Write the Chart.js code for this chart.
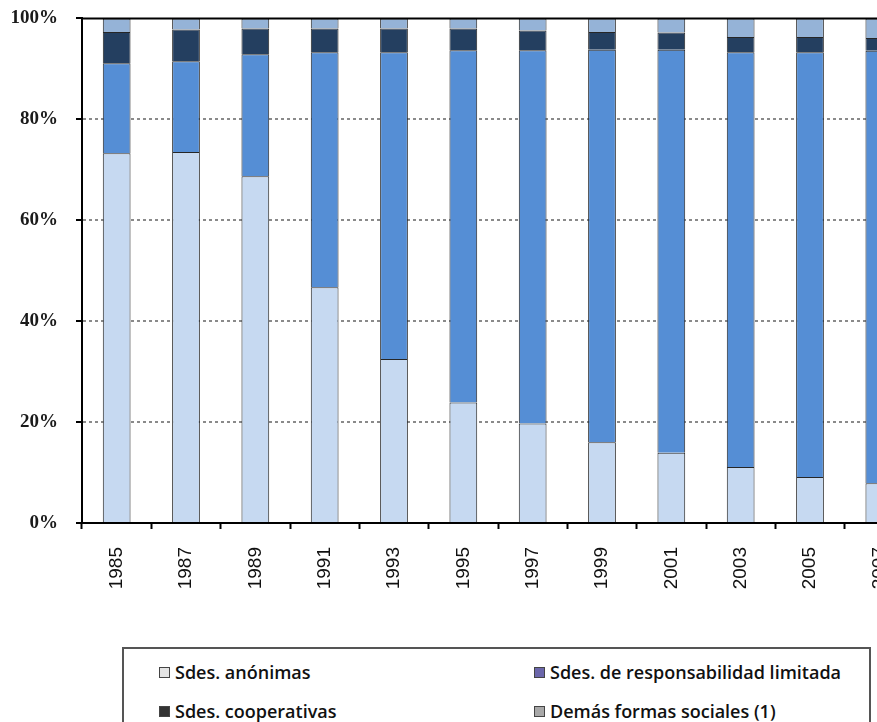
<!DOCTYPE html>
<html>
<head>
<meta charset="utf-8">
<script src="https://cdn.jsdelivr.net/npm/chart.js@4/dist/chart.umd.min.js"></script>
<style>
  html, body { margin: 0; padding: 0; width: 877px; height: 722px; overflow: hidden; background: #fff; }
  #wrap { position: absolute; left: 0; top: -11px; }
  #legend {
    position: absolute; left: 122px; top: 647px; width: 749px; height: 110px;
    border: 2px solid #555; box-sizing: border-box; background: #fff;
    font-family: "Open Sans", "Liberation Sans", sans-serif; font-weight: 600; font-size: 18px; color: #111;
  }
  .item { position: absolute; display: flex; align-items: center; white-space: nowrap; }
  .sw { width: 9px; height: 9px; border: 1px solid #444; margin-right: 5px; }
</style>
</head>
<body>
<div id="wrap"><canvas id="c" width="940" height="651"></canvas></div>
<div id="legend"></div>
<script>
// Distribución de las sociedades por forma jurídica (porcentaje sobre el total)
const years = ['1985', '1987', '1989', '1991', '1993', '1995', '1997', '1999', '2001', '2003', '2005', '2007'];
const anonimas =      [73.3, 73.5, 68.7, 46.7, 32.5, 23.9, 19.7, 16.0, 13.9, 11.1,  9.1,  7.9];
const limitadas =     [17.8, 18.0, 24.2, 46.6, 60.8, 69.8, 74.0, 77.8, 79.9, 82.2, 84.2, 85.7];
const cooperativas =  [ 6.2,  6.3,  5.1,  4.7,  4.7,  4.3,  3.9,  3.5,  3.4,  3.0,  3.0,  2.5];
const demas =         [ 2.7,  2.2,  2.0,  2.0,  2.0,  2.0,  2.4,  2.7,  2.8,  3.7,  3.7,  3.9];
const yTicks = [0, 20, 40, 60, 80, 100];

const seriesNames = ['Sdes. anónimas', 'Sdes. de responsabilidad limitada', 'Sdes. cooperativas', 'Demás formas sociales (1)'];
const barColors = ['#c6d9f1', '#558ed5', '#243f60', '#95b3d7'];
const legendColors = ['#e4e4e4', '#6b66aa', '#333333', '#a8a8a8'];

const seriesData = [anonimas, limitadas, cooperativas, demas];

// Marco superior del área de trazado
const frame = {
  id: 'frame',
  afterDraw(chart) {
    const { ctx, chartArea } = chart;
    ctx.save();
    ctx.strokeStyle = '#000';
    ctx.lineWidth = 2;
    ctx.beginPath();
    ctx.moveTo(chartArea.left, chartArea.top);
    ctx.lineTo(chartArea.right, chartArea.top);
    ctx.stroke();
    ctx.restore();
  }
};

new Chart(document.getElementById('c'), {
  type: 'bar',
  data: {
    labels: years,
    datasets: seriesData.map((d, i) => ({
      label: seriesNames[i],
      data: d,
      backgroundColor: barColors[i],
      borderColor: '#262626',
      borderWidth: 1,
      categoryPercentage: 1,
      barPercentage: 0.4
    }))
  },
  options: {
    responsive: false,
    animation: false,
    devicePixelRatio: 1,
    layout: { padding: { left: 0, top: 0, right: 26, bottom: 0 } },
    plugins: { legend: { display: false }, tooltip: { enabled: false } },
    scales: {
      x: {
        stacked: true,
        offset: true,
        afterFit: s => { s.height = 117; },
        grid: { offset: true, drawOnChartArea: false, color: '#000', tickLength: 6, tickWidth: 2 },
        border: { color: '#000', width: 2 },
        ticks: {
          autoSkip: false,
          minRotation: 90, maxRotation: 90, padding: 18,
          color: '#111',
          font: { family: '"Liberation Sans", Arial, sans-serif', size: 19 }
        }
      },
      y: {
        stacked: true,
        min: 0, max: 100,
        afterFit: s => { s.width = 82; },
        afterBuildTicks: s => { s.ticks = yTicks.map(v => ({ value: v })); },
        grid: {
          color: ctx => (ctx.tick && (ctx.tick.value === 0 || ctx.tick.value === 100)) ? 'rgba(0,0,0,0)' : '#8a8a8a',
          tickColor: '#000',
          tickLength: 6,
          lineWidth: 2,
          tickWidth: 2
        },
        border: { color: '#000', width: 2, dash: [3, 3] },
        ticks: {
          padding: 18,
          color: '#1a1a1a',
          font: { family: '"Liberation Serif", "Times New Roman", serif', size: 19, weight: 'bold' },
          callback: v => v + '%'
        }
      }
    }
  },
  plugins: [frame]
});

// Leyenda en dos columnas dentro de un recuadro
const legend = document.getElementById('legend');
const positions = [[35, 11], [410, 11], [35, 50], [410, 50]];
seriesNames.forEach((name, i) => {
  const it = document.createElement('div');
  it.className = 'item';
  it.style.left = positions[i][0] + 'px';
  it.style.top = positions[i][1] + 'px';
  const sw = document.createElement('span');
  sw.className = 'sw';
  sw.style.background = legendColors[i];
  const tx = document.createElement('span');
  tx.textContent = name;
  it.appendChild(sw);
  it.appendChild(tx);
  legend.appendChild(it);
});
</script>
</body>
</html>
